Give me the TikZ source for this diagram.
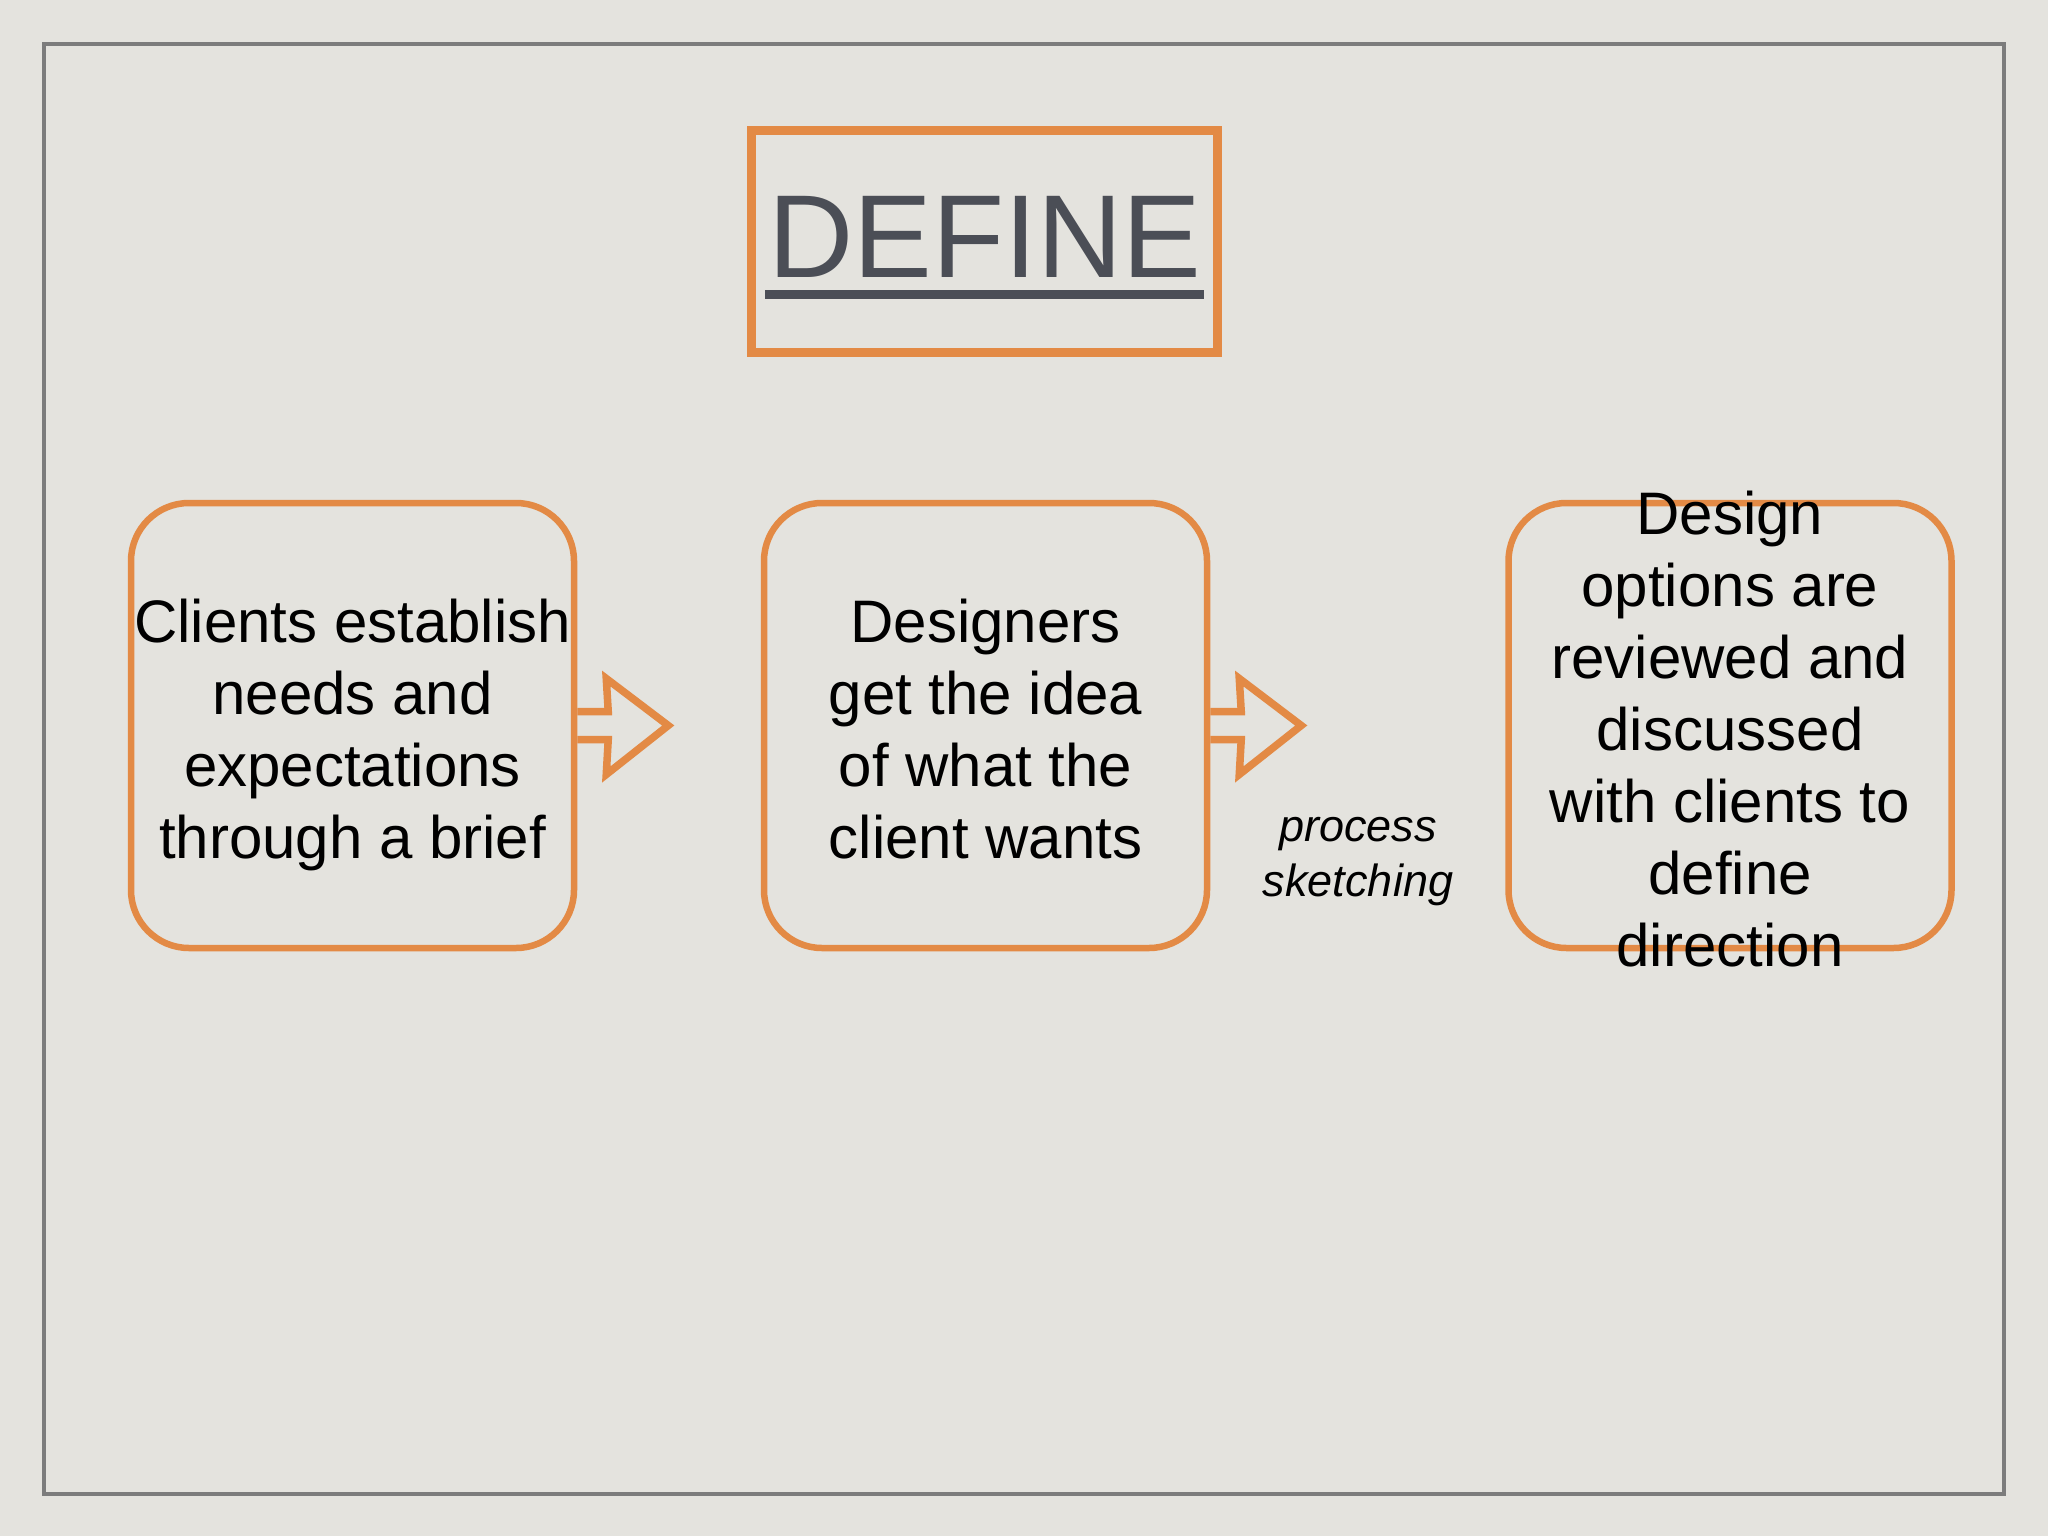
\documentclass[tikz,border=0pt]{standalone}
\usepackage{fontspec}
\setmainfont{Liberation Sans}
\usetikzlibrary{calc}
\definecolor{bg}{HTML}{E4E3DE}
\definecolor{org}{HTML}{E38A45}
\definecolor{frm}{HTML}{7C7C7C}
\definecolor{ttl}{HTML}{4B4E56}
\begin{document}
\begin{tikzpicture}[x=1pt,y=-1pt,
  stepbox/.style={draw=org, line width=6.5pt, rounded corners=58pt, minimum width=443pt, minimum height=445pt, inner sep=0pt},
  boxtext/.style={align=center, font=\fontsize{60}{72}\selectfont, text=black, inner sep=0pt},
  flowarrow/.style={draw=org, line width=7.5pt, line join=miter}]
\useasboundingbox (0,0) rectangle (2048,1536);
\fill[bg] (0,0) rectangle (2048,1536);
\draw[frm, line width=4pt] (44,44) rectangle (2004,1494);
% title
\node[draw=org, line width=9pt, minimum width=466pt, minimum height=222pt, inner sep=0pt] (title) at (984.5,241.5) {};
\node[anchor=base, text=ttl, font=\fontsize{118}{118}\selectfont, inner sep=0pt] (deftext) at (985,277) {DEFINE};
\draw[ttl, line width=9pt] ($(deftext.base west)+(-3,17)$) -- ($(deftext.base east)+(2,17)$);
% boxes
\node[stepbox] (b1) at (352.5,725.5) {};
\node[stepbox] (b2) at (985.5,725.5) {};
\node[stepbox] (b3) at (1730,725.5) {};
\node[boxtext] (t1) at (352.5,735) {Clients establish\\needs and\\expectations\\through a brief};
\node[boxtext] (t2) at (985.5,729) {Designers\\get the idea\\of what the\\client wants};
\node[boxtext] (t3) at (1730,729) {Design\\options are\\reviewed and\\discussed\\with clients to\\define\\direction};
% arrows
\draw[flowarrow] ($(b1.east)+(0,-14)$) -- ++(31,0) -- ++(-2,-33) -- ++(62,47) -- ++(-62,49) -- ++(2,-35) -- ($(b1.east)+(0,14)$);
\draw[flowarrow] ($(b2.east)+(0,-14)$) -- ++(31,0) -- ++(-2,-33) -- ++(62,47) -- ++(-62,49) -- ++(2,-35) -- ($(b2.east)+(0,14)$);
% label
\node[align=center, font=\fontsize{45}{55}\selectfont\itshape, inner sep=0pt] (proc) at (1358,862) {process\\sketching};
\end{tikzpicture}
\end{document}
